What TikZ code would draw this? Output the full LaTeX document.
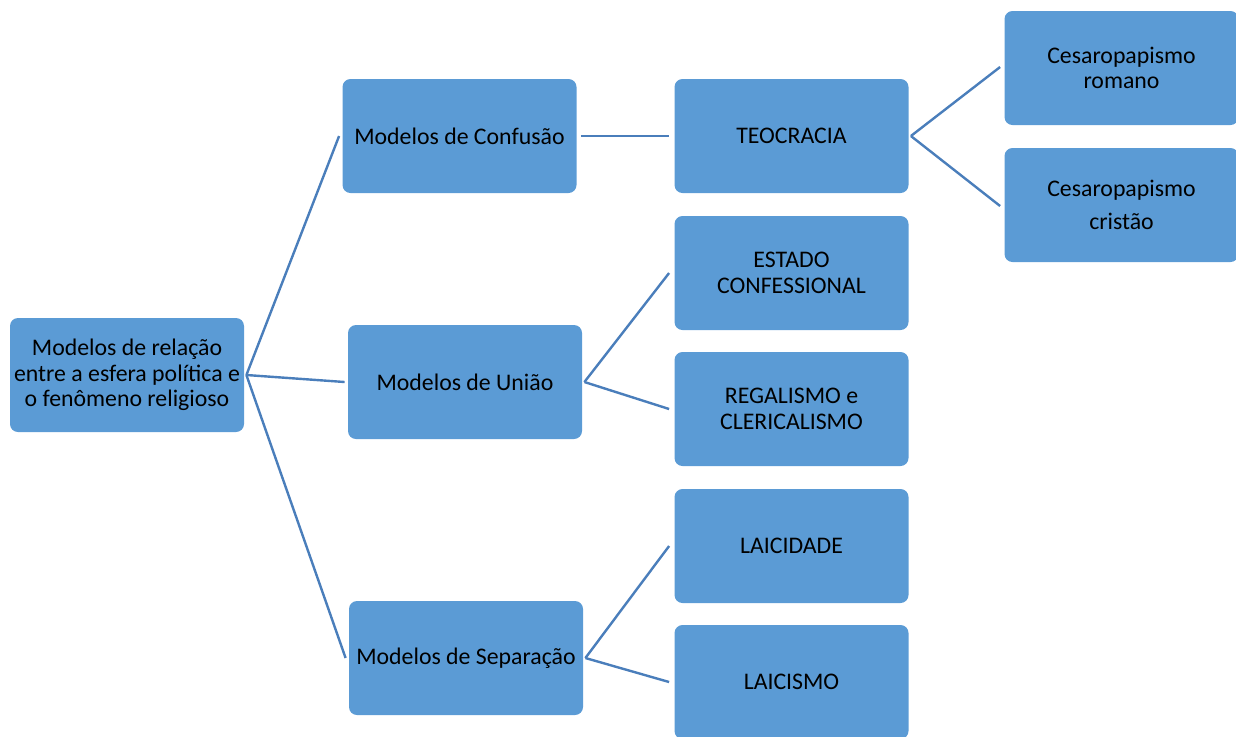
\documentclass[tikz,border=0pt]{standalone}
\usepackage{fontspec}
\setmainfont{Carlito}
\usetikzlibrary{positioning}
\definecolor{boxblue}{RGB}{91,155,213}
\definecolor{lineblue}{RGB}{74,126,187}

\begin{document}
\begin{tikzpicture}[x=0.5pt,y=-0.5pt,
        box/.style={fill=boxblue, rounded corners=4pt, minimum width=117pt, minimum height=57pt,
            align=center, inner sep=0pt, font=\fontsize{11.9}{12.8}\selectfont},
        link/.style={lineblue, line width=1.2pt}]
        \useasboundingbox (0,0) rectangle (1236,736);
        % boxes
        \node[box] (root) at (127,375) {Modelos de relação\\entre a esfera política e\\o fenômeno religioso};
        \node[box] (conf) at (459.5,136) {Modelos de Confusão};
        \node[box] (uniao) at (465,382) {Modelos de União};
        \node[box] (sep) at (466,658) {Modelos de Separação};
        \node[box] (teo) at (791.5,136) {TEOCRACIA};
        \node[box] (estado) at (791.5,273) {ESTADO\\CONFESSIONAL};
        \node[box] (regal) at (791.5,409) {REGALISMO e\\CLERICALISMO};
        \node[box] (laicid) at (791.5,546) {LAICIDADE};
        \node[box] (laicis) at (791.5,682) {LAICISMO};
        \node[box] (cesrom) at (1121.5,68) {Cesaropapismo\\romano};
        \node[box] (cescri) at (1121.5,205) {Cesaropapismo\\[4pt]cristão};
        % links
        \draw[link] ([xshift=1pt]root.east) -- ([xshift=-1.5pt]conf.west);
        \draw[link] ([xshift=1pt]root.east) -- ([xshift=-1.5pt]uniao.west);
        \draw[link] ([xshift=1pt]root.east) -- ([xshift=-1.5pt]sep.west);
        \draw[link] ([xshift=2pt]conf.east) -- ([xshift=-2.5pt]teo.west);
        \draw[link] ([xshift=1pt]teo.east) -- ([xshift=-2pt,yshift=0.5pt]cesrom.west);
        \draw[link] ([xshift=1pt]teo.east) -- ([xshift=-2pt,yshift=-0.5pt]cescri.west);
        \draw[link] ([xshift=1pt]uniao.east) -- ([xshift=-2.5pt]estado.west);
        \draw[link] ([xshift=1pt]uniao.east) -- ([xshift=-2.5pt]regal.west);
        \draw[link] ([xshift=1pt]sep.east) -- ([xshift=-2.5pt]laicid.west);
        \draw[link] ([xshift=1pt]sep.east) -- ([xshift=-2.5pt]laicis.west);
    \end{tikzpicture}
\end{document}
